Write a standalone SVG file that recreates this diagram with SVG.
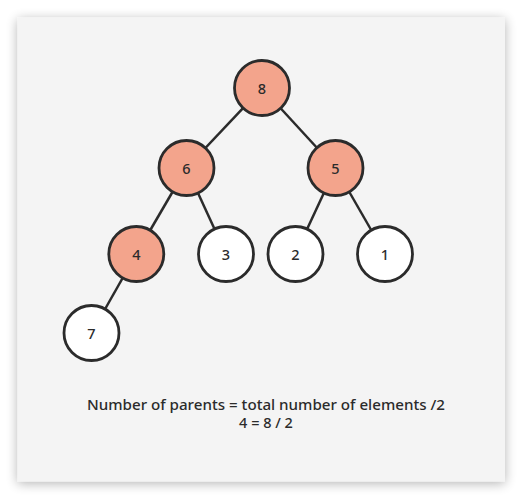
<svg xmlns="http://www.w3.org/2000/svg" width="531" height="500" viewBox="0 0 531 500">
  <defs>
    <filter id="cardShadow" x="-10%" y="-10%" width="120%" height="120%">
      <feGaussianBlur in="SourceAlpha" stdDeviation="6"/>
      <feOffset dx="0" dy="2"/>
      <feComponentTransfer><feFuncA type="linear" slope="0.3"/></feComponentTransfer>
      <feMerge><feMergeNode/><feMergeNode in="SourceGraphic"/></feMerge>
    </filter>
  </defs>
  <style>
    .edge { stroke: #2b2b2b; stroke-width: 2.5; fill: none; }
    .node circle { stroke: #2b2b2b; stroke-width: 2.8; }
    .hl circle { fill: #f3a48c; }
    .plain circle { fill: #ffffff; }
    .node text { font-family: "Noto Sans", "Open Sans", sans-serif; font-size: 14.5px; font-weight: 500; fill: #2b2b2b; text-anchor: middle; dominant-baseline: central; }
    .caption { font-family: "Noto Sans", "Open Sans", sans-serif; font-size: 14.5px; font-weight: 500; fill: #2b2b2b; text-anchor: middle; }
  </style>

  <rect width="531" height="500" fill="#ffffff"/>
  <rect x="17.5" y="17.5" width="487.5" height="464" fill="#f4f4f4" filter="url(#cardShadow)"/>

  <!-- connectors -->
  <g id="edges">
    <line class="edge" x1="262" y1="88" x2="186.5" y2="168"/>
    <line class="edge" x1="262" y1="88" x2="335.5" y2="168"/>
    <line class="edge" x1="186.5" y1="168" x2="136.3" y2="254"/>
    <line class="edge" x1="186.5" y1="168" x2="226" y2="254"/>
    <line class="edge" x1="335.5" y1="168" x2="295.5" y2="254"/>
    <line class="edge" x1="335.5" y1="168" x2="385" y2="254"/>
    <line class="edge" x1="136.3" y1="254" x2="91.5" y2="333"/>
  </g>

  <!-- heap nodes -->
  <g id="n8" class="node hl"><circle cx="262" cy="88" r="27.5"/><text x="262" y="88">8</text></g>
  <g id="n6" class="node hl"><circle cx="186.5" cy="168" r="27.5"/><text x="186.5" y="168">6</text></g>
  <g id="n5" class="node hl"><circle cx="335.5" cy="168" r="27.5"/><text x="335.5" y="168">5</text></g>
  <g id="n4" class="node hl"><circle cx="136.3" cy="254" r="27.5"/><text x="136.3" y="254">4</text></g>
  <g id="n3" class="node plain"><circle cx="226" cy="254" r="27.5"/><text x="226" y="254">3</text></g>
  <g id="n2" class="node plain"><circle cx="295.5" cy="254" r="27.5"/><text x="295.5" y="254">2</text></g>
  <g id="n1" class="node plain"><circle cx="385" cy="254" r="27.5"/><text x="385" y="254">1</text></g>
  <g id="n7" class="node plain"><circle cx="91.5" cy="333" r="27.5"/><text x="91.5" y="333">7</text></g>

  <g id="caption">
    <text class="caption" x="266" y="409.5" textLength="358" lengthAdjust="spacingAndGlyphs">Number of parents = total number of elements /2</text>
    <text class="caption" x="266" y="428">4 = 8 / 2</text>
  </g>
</svg>
